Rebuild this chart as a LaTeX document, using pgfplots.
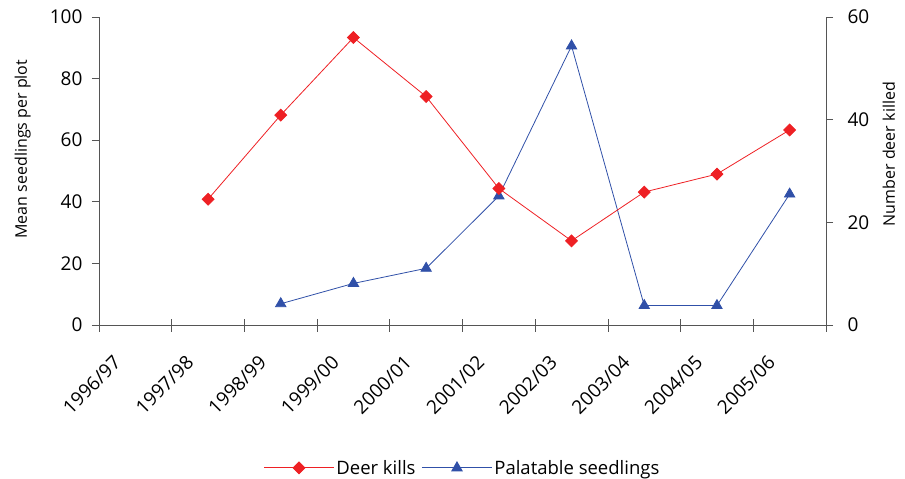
\documentclass[border=0pt]{standalone}
\usepackage{pgfplots}
\pgfplotsset{compat=1.18}
\usepackage{fontspec}
\setmainfont{Open Sans}
\definecolor{deerred}{HTML}{EE2024}
\definecolor{seedblue}{HTML}{3050A8}
\definecolor{axisgray}{HTML}{555555}
\begin{document}
\begin{tikzpicture}[x=1pt,y=1pt]
\path[use as bounding box] (-99,-154) rectangle (806,325);
\pgfplotsset{
  common/.style={
    scale only axis, width=727pt, height=308pt,
    at={(0,0)}, anchor=south west,
    xmin=0.5, xmax=10.5,
    /pgf/number format/assume math mode=true,
    tick label style={font=\fontsize{19}{22}\selectfont},
    tick style={axisgray, line width=0.8pt},
    axis line style={axisgray, line width=0.8pt, -},
    major tick length=7pt,
  }
}
\begin{axis}[common,
  axis x line*=bottom, axis y line*=left,
  ymin=0, ymax=100, ytick={0,20,...,100},
  ytick align=outside,
  yticklabel style={xshift=-6pt},
  ylabel={Mean seedlings per plot},
  every axis y label/.style={at={(axis description cs:-0.105,0.571)}, rotate=90, anchor=center, font=\fontsize{16}{19}\selectfont},
  xtick={1,...,10},
  xticklabels={1996/97,1997/98,1998/99,1999/00,2000/01,2001/02,2002/03,2003/04,2004/05,2005/06},
  xticklabel style={xshift=-23pt, yshift=-21pt, rotate=45, anchor=north east},
  major x tick style={draw=none},
  minor xtick={0.5,1.5,...,10.5},
  minor tick length=13pt,
  xtick align=center,
  minor x tick style={axisgray, line width=0.8pt},
]
\addplot[seedblue, line width=0.8pt, mark=triangle*, mark size=6pt, mark options={fill=seedblue, draw=seedblue}] coordinates {
  (3, 6.9) (4, 13.5) (5, 18.4) (6, 41.9) (7, 90.6) (8, 6.3) (9, 6.3) (10, 42.5)
};
\end{axis}
\begin{axis}[common,
  axis x line=none, axis y line*=right,
  ymin=0, ymax=60, ytick={0,20,40,60},
  ytick align=outside,
  yticklabel style={xshift=11pt},
  ylabel={Number deer killed},
  every axis y label/.style={at={(axis description cs:1.0866,0.555)}, rotate=90, anchor=center, font=\fontsize{16}{19}\selectfont},
  legend style={at={(0.5,-0.425)}, anchor=north, draw=none, legend columns=2,
    font=\fontsize{18.5}{21}\selectfont,
    /tikz/every even column/.append style={column sep=4pt}},
  legend image code/.code={
    \draw[mark repeat=2, mark phase=2, #1] plot coordinates {(0pt,0pt) (35pt,0pt) (70pt,0pt)};
  },
]
\addplot[deerred, line width=0.8pt, mark=square*, mark size=4.2pt, mark options={fill=deerred, draw=deerred, rotate=45}] coordinates {
  (2, 24.5) (3, 40.9) (4, 56) (5, 44.5) (6, 26.6) (7, 16.4) (8, 25.9) (9, 29.4) (10, 38)
};
\addlegendentry{Deer kills}
\addlegendimage{seedblue, line width=0.8pt, mark=triangle*, mark size=6pt, mark options={fill=seedblue, draw=seedblue}}
\addlegendentry{Palatable seedlings}
\end{axis}
\end{tikzpicture}
\end{document}
